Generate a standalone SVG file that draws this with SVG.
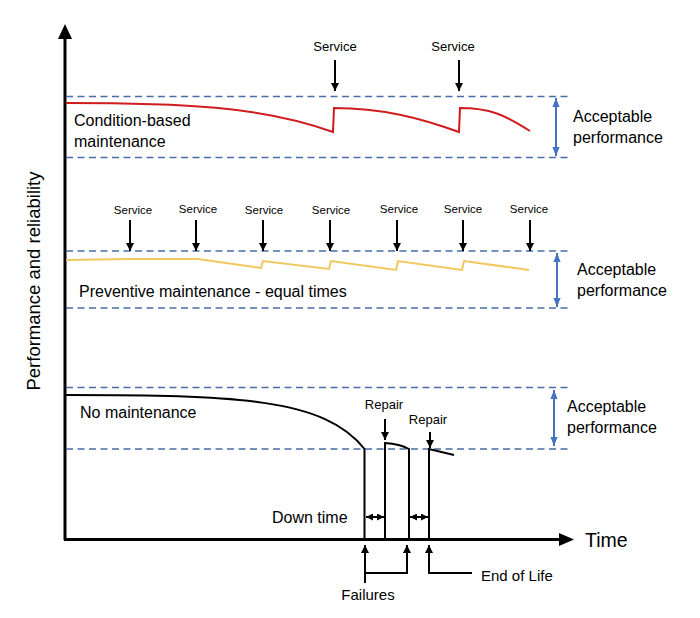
<svg xmlns="http://www.w3.org/2000/svg" width="700" height="618" viewBox="0 0 700 618">
<defs>
<marker id="ah" viewBox="0 0 10 10" refX="10" refY="5" markerWidth="4.2" markerHeight="4.2" orient="auto-start-reverse" markerUnits="strokeWidth"><path d="M0,0 L10,5 L0,10 z" fill="#000"/></marker>
<marker id="bh" viewBox="0 0 10 10" refX="10" refY="5" markerWidth="4.5" markerHeight="5" orient="auto-start-reverse" markerUnits="strokeWidth"><path d="M0,1 L10,5 L0,9 z" fill="#4472c4"/></marker>
<marker id="sh" viewBox="0 0 10 10" refX="10" refY="5" markerWidth="3.5" markerHeight="3.5" orient="auto-start-reverse" markerUnits="strokeWidth"><path d="M0,0 L10,5 L0,10 z" fill="#000"/></marker>
</defs>
<style>
text{font-family:"Liberation Sans",Arial,sans-serif;fill:#000}
.lbl{font-size:16px}
.svc{font-size:13px;text-anchor:middle}
.svs{font-size:11.5px;text-anchor:middle}
.dash{stroke:#4a6ca8;stroke-width:1.6;stroke-dasharray:7 4.5;fill:none}
.arr{stroke:#000;stroke-width:2;fill:none;marker-end:url(#ah)}
.band{stroke:#4472c4;stroke-width:2;fill:none;marker-start:url(#bh);marker-end:url(#bh)}
.blk{stroke:#000;stroke-width:2;fill:none}
</style>
<rect width="700" height="618" fill="#fff"/>

<g id="axes">
<line x1="65" y1="540" x2="65" y2="37" stroke="#000" stroke-width="3"/>
<polygon points="58,39 72,39 65,24" fill="#000"/>
<line x1="64" y1="539.5" x2="561" y2="539.5" stroke="#000" stroke-width="3"/>
<polygon points="559,533 559,546 574,539.5" fill="#000"/>
<text x="585" y="547" style="font-size:19.5px">Time</text>
<text transform="translate(40,281) rotate(-90)" style="font-size:18.5px" text-anchor="middle">Performance and reliability</text>
</g>

<g id="condition-based">
<line class="dash" x1="66" y1="96.5" x2="570" y2="96.5"/>
<line class="dash" x1="66" y1="157.5" x2="570" y2="157.5"/>
<path d="M66,103 C180,103 262,106 333,132 L334,108 C382,108 420,118 459,132 L460,108 C490,108 505,115 530,131" stroke="#d01c1c" stroke-width="2" fill="none"/>
<text class="lbl" x="74" y="126">Condition-based</text>
<text class="lbl" x="74" y="147">maintenance</text>
<text class="svc" x="335" y="51">Service</text>
<line class="arr" x1="335" y1="60" x2="335" y2="91"/>
<text class="svc" x="453" y="51">Service</text>
<line class="arr" x1="459" y1="60" x2="459" y2="91"/>
<line class="band" x1="556" y1="98" x2="556" y2="156"/>
<text class="lbl" x="573" y="122">Acceptable</text>
<text class="lbl" x="573" y="143">performance</text>
</g>

<g id="preventive">
<line class="dash" x1="66" y1="251" x2="570" y2="251"/>
<line class="dash" x1="66" y1="308" x2="570" y2="308"/>
<path d="M66,260 L130,259 L198,259 L261,268 L263,261 L329,269 L331,261 L396,270 L398,261 L462,270 L464,261 L529,270" stroke="#f2c75c" stroke-width="2" fill="none"/>
<text class="lbl" x="79" y="297">Preventive maintenance - equal times</text>
<text class="svs" x="133" y="214">Service</text>
<line class="arr" x1="130" y1="220" x2="130" y2="251"/>
<text class="svs" x="198" y="213">Service</text>
<line class="arr" x1="196" y1="220" x2="196" y2="251"/>
<text class="svs" x="264" y="214">Service</text>
<line class="arr" x1="263" y1="220" x2="263" y2="251"/>
<text class="svs" x="331" y="214">Service</text>
<line class="arr" x1="330" y1="220" x2="330" y2="251"/>
<text class="svs" x="399" y="213">Service</text>
<line class="arr" x1="397" y1="220" x2="397" y2="251"/>
<text class="svs" x="463" y="213">Service</text>
<line class="arr" x1="463" y1="220" x2="463" y2="251"/>
<text class="svs" x="529" y="213">Service</text>
<line class="arr" x1="530" y1="220" x2="530" y2="251"/>
<line class="band" x1="557" y1="253" x2="557" y2="307"/>
<text class="lbl" x="577" y="275">Acceptable</text>
<text class="lbl" x="577" y="296">performance</text>
</g>

<g id="no-maintenance">
<line class="dash" x1="66" y1="387.5" x2="568" y2="387.5"/>
<line class="dash" x1="66" y1="449" x2="568" y2="449"/>
<path class="blk" d="M66,395 C235,395 325,398 364.5,449 L364.5,540"/>
<path class="blk" d="M385,540 L385,443 Q400,444 409,449 L409,540"/>
<path class="blk" d="M429,540 L429,449 L454,455"/>
<text class="lbl" x="80" y="418">No maintenance</text>
<text x="384" y="409" style="font-size:13px" text-anchor="middle">Repair</text>
<line class="arr" x1="385" y1="419" x2="385" y2="440"/>
<text x="428" y="424" style="font-size:13px" text-anchor="middle">Repair</text>
<line class="arr" x1="430" y1="432" x2="430" y2="448"/>
<line class="band" x1="554" y1="390" x2="554" y2="446"/>
<text class="lbl" x="567" y="412">Acceptable</text>
<text class="lbl" x="567" y="433">performance</text>
</g>

<g id="downtime">
<text class="lbl" x="272" y="523">Down time</text>
<line x1="366" y1="517" x2="384" y2="517" stroke="#000" stroke-width="2" marker-start="url(#sh)" marker-end="url(#sh)"/>
<line x1="410" y1="517" x2="428" y2="517" stroke="#000" stroke-width="2" marker-start="url(#sh)" marker-end="url(#sh)"/>
</g>

<g id="connectors">
<line class="arr" x1="365" y1="583" x2="365" y2="545"/>
<path class="arr" d="M365,573 L407,573 L407,545"/>
<path class="arr" d="M472,573 L429,573 L429,545"/>
</g>

<g id="annotations">
<text x="368" y="600" style="font-size:15px" text-anchor="middle">Failures</text>
<text x="481" y="581" style="font-size:15px">End of Life</text>
</g>
</svg>
